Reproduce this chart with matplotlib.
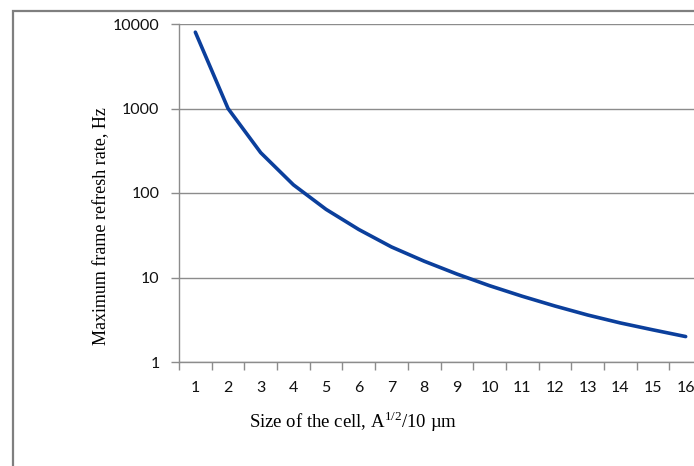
import matplotlib

matplotlib.use("Agg")
import matplotlib.pyplot as plt
import numpy as np
from matplotlib.patches import Rectangle

# ---------------------------------------------------------------------------
# Data
# ---------------------------------------------------------------------------

cell_sizes = list(range(1, 17))
refresh_rate = [8000, 1000, 300, 125, 64, 37, 23, 15.6, 11, 8.0,
                6.0, 4.6, 3.6, 2.9, 2.4, 2.0]
y_ticks = [1, 10, 100, 1000, 10000]

LINE_COLOR = "#0b3f9c"
GRID_COLOR = "#8c8c8c"

plt.rcParams["mathtext.fontset"] = "custom"
plt.rcParams["mathtext.rm"] = "Liberation Serif"

W, H = 694, 466
fig = plt.figure(figsize=(W / 100, H / 100), dpi=100)

# outer chart border (only top/left visible in the crop)
fig.patches.append(Rectangle((13 / W, -0.1), 1.2, 1 - 11 / H + 0.1,
                             transform=fig.transFigure, fill=False,
                             edgecolor="#7f7f7f", linewidth=1.6))

left, right, top, bottom = 179, 702, 24, 362
ax = fig.add_axes([left / W, 1 - bottom / H, (right - left) / W, (bottom - top) / H])

x = np.arange(len(cell_sizes))
ax.plot(x, refresh_rate, color=LINE_COLOR, linewidth=2.6, solid_capstyle="round")

ax.set_yscale("log")
ax.set_ylim(1, 10000)
ax.set_yticks(y_ticks)
ax.set_yticklabels([str(v) for v in y_ticks])
ax.minorticks_off()
ax.yaxis.grid(True, color=GRID_COLOR, linewidth=1.0)
ax.set_axisbelow(True)

ax.set_xlim(-0.5, len(cell_sizes) - 0.5)
ax.set_xticks(x)
ax.set_xticklabels([str(c) for c in cell_sizes])
ax.set_xticks(np.arange(len(cell_sizes) + 1) - 0.5, minor=True)
ax.tick_params(axis="x", which="major", length=0, pad=14)
ax.tick_params(axis="x", which="minor", length=6, color=GRID_COLOR, width=1.0)
ax.tick_params(axis="y", length=6, color=GRID_COLOR, width=1.0, pad=8)

for lab in ax.get_xticklabels() + ax.get_yticklabels():
    lab.set_family("Lato")
    lab.set_fontsize(11.5)
    lab.set_color("#111111")

for side in ("top", "right"):
    ax.spines[side].set_visible(False)
for side in ("left", "bottom"):
    ax.spines[side].set_color(GRID_COLOR)
    ax.spines[side].set_linewidth(1.0)

fig.text(102 / W, 1 - 226 / H, "Maximum frame refresh rate, Hz",
         rotation=90, ha="center", va="center",
         family="Liberation Serif", fontsize=13)
fig.text(353 / W, 1 - 422 / H, r"Size of the cell, A$^{\mathregular{1/2}}$/10 µm",
         ha="center", va="center", family="Liberation Serif", fontsize=13.5)

fig.savefig("out.png", dpi=100)
plt.close(fig)
